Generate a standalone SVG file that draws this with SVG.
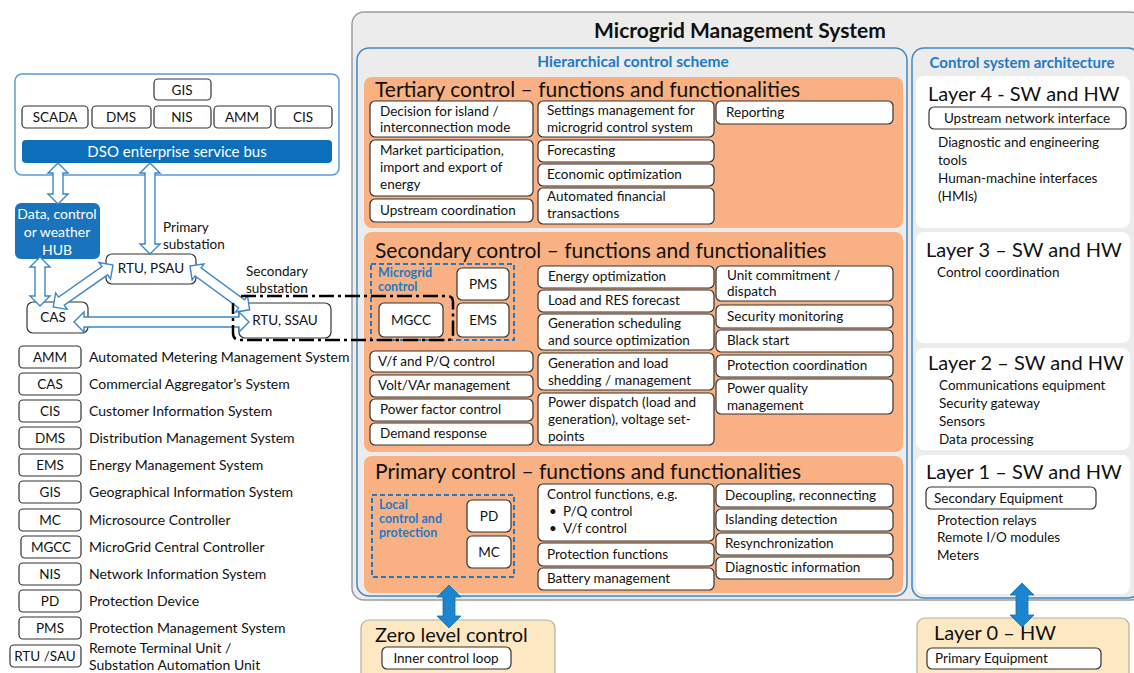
<svg xmlns="http://www.w3.org/2000/svg" width="1134" height="673" viewBox="0 0 1134 673">
<style>
text{font-family:Lato,"Liberation Sans",sans-serif;fill:#111}
.it{fill:#fff;stroke:#333;stroke-width:1.2}
.t{font-size:13.5px}
.c{text-anchor:middle}
.lg{font-size:14px}
.ttl{font-size:21px}
.lay{font-size:20px}
.bl{fill:#1f7ac6;font-weight:bold}
.sm{font-size:12.5px}
.org{fill:#f9b183}
.ha{fill:#fff;stroke:#3d86c6;stroke-width:1.4}
.ba{fill:#1b86cf;stroke:#1670b0;stroke-width:0.8}
.wt{fill:#fff}
</style>
<rect x="0" y="0" width="1134" height="673" fill="#fff"/>

<!-- MMS container -->
<g id="mms">
<rect x="352" y="12" width="790" height="588" rx="12" fill="#ececec" stroke="#9c9c9c" stroke-width="1.5"/>
<text x="740" y="38" class="c" style="font-size:21px;font-weight:bold">Microgrid Management System</text>
</g>

<g id="hier">
<rect x="357" y="48" width="550" height="548" rx="12" fill="#ececec" stroke="#3d86c6" stroke-width="1.5"/>
<text x="633" y="67" class="c bl" style="font-size:15.5px">Hierarchical control scheme</text>
</g>

<g id="csa">
<rect x="912" y="48" width="228" height="550" rx="12" fill="#ececec" stroke="#3d86c6" stroke-width="1.5"/>
<text x="1022" y="68" class="c bl" style="font-size:15px">Control system architecture</text>
</g>

<!-- Tertiary -->
<g id="tertiary">
<rect x="364" y="77" width="539" height="151" rx="8" class="org"/>
<text x="375" y="97" class="ttl">Tertiary control – functions and functionalities</text>
<rect x="370" y="101" width="163" height="36" rx="5" class="it"/>
<text x="380" y="116" class="t">Decision for island /</text>
<text x="380" y="132" class="t">interconnection mode</text>
<rect x="370" y="140" width="163" height="56" rx="5" class="it"/>
<text x="380" y="155" class="t">Market participation,</text>
<text x="380" y="172" class="t">import and export of</text>
<text x="380" y="189" class="t">energy</text>
<rect x="370" y="199" width="163" height="23" rx="5" class="it"/>
<text x="380" y="215" class="t">Upstream coordination</text>
<rect x="538" y="101" width="176" height="36" rx="5" class="it"/>
<text x="547" y="115" class="t">Settings management for</text>
<text x="547" y="132" class="t">microgrid control system</text>
<rect x="538" y="140" width="176" height="22" rx="5" class="it"/>
<text x="547" y="155" class="t">Forecasting</text>
<rect x="538" y="164" width="176" height="22" rx="5" class="it"/>
<text x="547" y="179" class="t">Economic optimization</text>
<rect x="538" y="188" width="176" height="36" rx="5" class="it"/>
<text x="547" y="201" class="t">Automated financial</text>
<text x="547" y="218" class="t">transactions</text>
<rect x="716" y="101" width="177" height="23" rx="5" class="it"/>
<text x="726" y="117" class="t">Reporting</text>
</g>

<!-- Secondary -->
<g id="secondary">
<rect x="364" y="232" width="539" height="220" rx="8" class="org"/>
<text x="375" y="258" class="ttl">Secondary control – functions and functionalities</text>
<rect x="371" y="264" width="143" height="76" fill="none" stroke="#1f7ac6" stroke-width="2" stroke-dasharray="5,3"/>
<text x="378" y="277" class="bl sm">Microgrid</text>
<text x="378" y="291" class="bl sm">control</text>
<rect x="457" y="268" width="52" height="32" rx="5" class="it"/>
<text x="483" y="289" class="t c">PMS</text>
<rect x="379" y="303" width="64" height="34" rx="5" class="it"/>
<text x="411" y="325" class="t c">MGCC</text>
<rect x="457" y="303" width="52" height="34" rx="5" class="it"/>
<text x="483" y="325" class="t c">EMS</text>
<rect x="370" y="351" width="163" height="21" rx="5" class="it"/>
<text x="378" y="366" class="t">V/f and P/Q control</text>
<rect x="370" y="375" width="163" height="22" rx="5" class="it"/>
<text x="378" y="390" class="t">Volt/VAr management</text>
<rect x="370" y="399" width="163" height="22" rx="5" class="it"/>
<text x="380" y="414" class="t">Power factor control</text>
<rect x="370" y="423" width="163" height="22" rx="5" class="it"/>
<text x="380" y="438" class="t">Demand response</text>
<rect x="538" y="266" width="176" height="22" rx="5" class="it"/>
<text x="548" y="281" class="t">Energy optimization</text>
<rect x="538" y="290" width="176" height="22" rx="5" class="it"/>
<text x="548" y="305" class="t">Load and RES forecast</text>
<rect x="538" y="314" width="176" height="36" rx="5" class="it"/>
<text x="548" y="328" class="t">Generation scheduling</text>
<text x="548" y="345" class="t">and source  optimization</text>
<rect x="538" y="353" width="176" height="37" rx="5" class="it"/>
<text x="548" y="368" class="t">Generation and load</text>
<text x="548" y="385" class="t">shedding / management</text>
<rect x="538" y="393" width="176" height="52" rx="5" class="it"/>
<text x="548" y="407" class="t">Power dispatch (load and</text>
<text x="548" y="424" class="t">generation), voltage set-</text>
<text x="548" y="441" class="t">points</text>
<rect x="716" y="266" width="177" height="35" rx="5" class="it"/>
<text x="727" y="280" class="t">Unit commitment /</text>
<text x="727" y="296" class="t">dispatch</text>
<rect x="716" y="305" width="177" height="23" rx="5" class="it"/>
<text x="727" y="321" class="t">Security monitoring</text>
<rect x="716" y="330" width="177" height="22" rx="5" class="it"/>
<text x="727" y="345" class="t">Black start</text>
<rect x="716" y="355" width="177" height="22" rx="5" class="it"/>
<text x="727" y="370" class="t">Protection coordination</text>
<rect x="716" y="379" width="177" height="35" rx="5" class="it"/>
<text x="727" y="393" class="t">Power quality</text>
<text x="727" y="410" class="t">management</text>
</g>

<!-- Primary -->
<g id="primary">
<rect x="364" y="456" width="539" height="137" rx="8" class="org"/>
<text x="375" y="479" class="ttl">Primary control – functions and functionalities</text>
<rect x="372" y="495" width="142" height="82" fill="none" stroke="#1f7ac6" stroke-width="2" stroke-dasharray="5,3"/>
<text x="379" y="509" class="bl sm">Local</text>
<text x="379" y="523" class="bl sm">control and</text>
<text x="379" y="537" class="bl sm">protection</text>
<rect x="467" y="500" width="44" height="32" rx="5" class="it"/>
<text x="489" y="521" class="t c">PD</text>
<rect x="467" y="536" width="44" height="32" rx="5" class="it"/>
<text x="489" y="557" class="t c">MC</text>
<rect x="538" y="484" width="176" height="57" rx="5" class="it"/>
<text x="547" y="499" class="t">Control functions, e.g.</text>
<text x="549" y="516" class="t">•</text>
<text x="563" y="516" class="t">P/Q control</text>
<text x="549" y="533" class="t">•</text>
<text x="563" y="533" class="t">V/f control</text>
<rect x="538" y="543" width="176" height="23" rx="5" class="it"/>
<text x="547" y="559" class="t">Protection functions</text>
<rect x="538" y="568" width="176" height="22" rx="5" class="it"/>
<text x="547" y="583" class="t">Battery management</text>
<rect x="716" y="484" width="177" height="23" rx="5" class="it"/>
<text x="725" y="500" class="t">Decoupling, reconnecting</text>
<rect x="716" y="509" width="177" height="22" rx="5" class="it"/>
<text x="725" y="524" class="t">Islanding detection</text>
<rect x="716" y="533" width="177" height="22" rx="5" class="it"/>
<text x="725" y="548" class="t">Resynchronization</text>
<rect x="716" y="557" width="177" height="22" rx="5" class="it"/>
<text x="725" y="572" class="t">Diagnostic information</text>
</g>

<!-- Layers -->
<g id="layer4">
<rect x="916" y="76" width="214" height="152" rx="8" fill="#fff"/>
<text x="928" y="101" class="lay">Layer 4 - SW and HW</text>
<rect x="929" y="107" width="197" height="22" rx="5" class="it"/>
<text x="1027" y="123" class="t c">Upstream network interface</text>
<text x="938" y="147" class="t">Diagnostic and engineering</text>
<text x="938" y="165" class="t">tools</text>
<text x="938" y="183" class="t">Human-machine interfaces</text>
<text x="938" y="201" class="t">(HMIs)</text>
</g>
<g id="layer3">
<rect x="916" y="232" width="214" height="111" rx="8" fill="#fff"/>
<text x="926" y="257" class="lay">Layer 3 – SW and HW</text>
<text x="937" y="277" class="t">Control coordination</text>
</g>
<g id="layer2">
<rect x="916" y="348" width="214" height="102" rx="8" fill="#fff"/>
<text x="928" y="370" class="lay">Layer 2 – SW and HW</text>
<text x="939" y="390" class="t">Communications equipment</text>
<text x="939" y="408" class="t">Security gateway</text>
<text x="939" y="426" class="t">Sensors</text>
<text x="939" y="444" class="t">Data processing</text>
</g>
<g id="layer1">
<rect x="916" y="455" width="214" height="139" rx="8" fill="#fff"/>
<text x="926" y="479" class="lay">Layer 1 – SW and HW</text>
<rect x="926" y="487" width="170" height="22" rx="5" class="it"/>
<text x="934" y="503" class="t">Secondary Equipment</text>
<text x="937" y="525" class="t">Protection relays</text>
<text x="937" y="542" class="t">Remote I/O modules</text>
<text x="937" y="560" class="t">Meters</text>
</g>
<g id="layer0">
<rect x="917" y="618" width="212" height="70" rx="8" fill="#fde8c4" stroke="#b8ad9c" stroke-width="1.2"/>
<text x="934" y="640" class="lay">Layer 0 – HW</text>
<rect x="927" y="648" width="174" height="21" rx="5" class="it"/>
<text x="935" y="663" class="t">Primary Equipment</text>
</g>
<g id="zero">
<rect x="361" y="620" width="194" height="70" rx="8" fill="#fde8c4" stroke="#b8ad9c" stroke-width="1.2"/>
<text x="375" y="642" class="lay">Zero level control</text>
<rect x="382" y="647" width="129" height="22" rx="5" class="it"/>
<text x="446" y="663" class="t c">Inner control loop</text>
</g>

<!-- DSO -->
<g id="dso">
<rect x="15" y="74" width="324" height="101" rx="7" fill="#fff" stroke="#5b9bd5" stroke-width="1.5"/>
<rect x="154" y="79" width="57" height="21" rx="4" class="it"/>
<text x="182" y="95" class="t c">GIS</text>
<rect x="22" y="106" width="66" height="22" rx="4" class="it"/>
<text x="55" y="122" class="t c">SCADA</text>
<rect x="92" y="106" width="59" height="22" rx="4" class="it"/>
<text x="121" y="122" class="t c">DMS</text>
<rect x="154" y="106" width="57" height="22" rx="4" class="it"/>
<text x="182" y="122" class="t c">NIS</text>
<rect x="214" y="106" width="57" height="22" rx="4" class="it"/>
<text x="242" y="122" class="t c">AMM</text>
<rect x="275" y="106" width="57" height="22" rx="4" class="it"/>
<text x="303" y="122" class="t c">CIS</text>
<rect x="22" y="140" width="310" height="23" rx="4" fill="#0b6fbb"/>
<text x="177" y="157" class="c wt" style="font-size:15px">DSO enterprise service bus</text>
</g>
<g id="hub">
<rect x="15" y="203" width="85" height="56" rx="6" fill="#1a74bd"/>
<text x="57" y="219" class="c wt" style="font-size:14px">Data, control</text>
<text x="57" y="237" class="c wt" style="font-size:14px">or weather</text>
<text x="57" y="255" class="c wt" style="font-size:14px">HUB</text>
</g>
<g id="psau">
<text x="163" y="232" class="t">Primary</text>
<text x="163" y="249" class="t">substation</text>
<rect x="106" y="254" width="90" height="30" rx="6" class="it"/>
<text x="151" y="273" class="t c">RTU, PSAU</text>
</g>
<g id="ssau">
<text x="246" y="276" class="t">Secondary</text>
<text x="246" y="293" class="t">substation</text>
<rect x="239" y="303" width="92" height="35" rx="6" class="it"/>
<text x="285" y="325" class="t c">RTU, SSAU</text>
</g>
<g id="cas">
<rect x="27" y="302" width="61" height="31" rx="6" class="it"/>
<text x="53" y="322" class="t c">CAS</text>
</g>

<!-- Legend -->
<g id="legend">
<rect x="19" y="346" width="62" height="22" rx="4" class="it"/><text x="50" y="362" class="t c">AMM</text><text x="89" y="362" class="lg">Automated Metering Management System</text>
<rect x="19" y="373" width="62" height="22" rx="4" class="it"/><text x="50" y="389" class="t c">CAS</text><text x="89" y="389" class="lg">Commercial Aggregator’s System</text>
<rect x="19" y="400" width="62" height="22" rx="4" class="it"/><text x="50" y="416" class="t c">CIS</text><text x="89" y="416" class="lg">Customer Information System</text>
<rect x="19" y="427" width="62" height="22" rx="4" class="it"/><text x="50" y="443" class="t c">DMS</text><text x="89" y="443" class="lg">Distribution Management System</text>
<rect x="19" y="454" width="62" height="22" rx="4" class="it"/><text x="50" y="470" class="t c">EMS</text><text x="89" y="470" class="lg">Energy Management System</text>
<rect x="19" y="481" width="62" height="22" rx="4" class="it"/><text x="50" y="497" class="t c">GIS</text><text x="89" y="497" class="lg">Geographical Information System</text>
<rect x="19" y="509" width="62" height="22" rx="4" class="it"/><text x="50" y="525" class="t c">MC</text><text x="89" y="525" class="lg">Microsource Controller</text>
<rect x="21" y="536" width="60" height="22" rx="4" class="it"/><text x="51" y="552" class="t c">MGCC</text><text x="89" y="552" class="lg">MicroGrid Central Controller</text>
<rect x="19" y="563" width="62" height="22" rx="4" class="it"/><text x="50" y="579" class="t c">NIS</text><text x="89" y="579" class="lg">Network Information System</text>
<rect x="19" y="590" width="62" height="22" rx="4" class="it"/><text x="50" y="606" class="t c">PD</text><text x="89" y="606" class="lg">Protection Device</text>
<rect x="19" y="617" width="62" height="22" rx="4" class="it"/><text x="50" y="633" class="t c">PMS</text><text x="89" y="633" class="lg">Protection Management System</text>
<rect x="10" y="645" width="71" height="22" rx="4" class="it"/><text x="45" y="661" class="t c">RTU /SAU</text><text x="89" y="653" class="lg">Remote Terminal Unit /</text><text x="89" y="670" class="lg">Substation Automation Unit</text>
</g>

<!-- Connectors -->
<g id="connectors">
<path class="ha" d="M0,0 L10,-10 L10,-5 L31,-5 L31,-10 L41,0 L31,10 L31,5 L10,5 L10,10 Z" transform="translate(58,163) rotate(90)"/>
<path class="ha" d="M0,0 L10,-10 L10,-5 L81,-5 L81,-10 L91,0 L81,10 L81,5 L10,5 L10,10 Z" transform="translate(150,163) rotate(90)"/>
<path class="ha" d="M0,0 L10,-10 L10,-5 L39,-5 L39,-10 L49,0 L39,10 L39,5 L10,5 L10,10 Z" transform="translate(40,257) rotate(90)"/>
<path class="ha" d="M0,0 L10,-10 L10,-5 L63,-5 L63,-10 L73,0 L63,10 L63,5 L10,5 L10,10 Z" transform="translate(113,265) rotate(145)"/>
<path class="ha" d="M0,0 L10,-10 L10,-5 L64,-5 L64,-10 L74,0 L64,10 L64,5 L10,5 L10,10 Z" transform="translate(190,266) rotate(36.3)"/>
<path class="ha" d="M0,0 L10,-10 L10,-5 L165,-5 L165,-10 L175,0 L165,10 L165,5 L10,5 L10,10 Z" transform="translate(74,322)"/>
<path d="M241,296 H447 Q453,296 453,302 V334 Q453,340 447,340 H240 Q233,340 233,333 V303" fill="none" stroke="#000" stroke-width="2.5" stroke-dasharray="15,4,3,4"/>
<path class="ba" d="M449,585 L461,597 L455,597 L455,616 L461,616 L449,628 L437,616 L443,616 L443,597 L437,597 Z"/>
<path class="ba" d="M1022,583 L1034,595 L1028,595 L1028,615 L1034,615 L1022,627 L1010,615 L1016,615 L1016,595 L1010,595 Z"/>
</g>
</svg>
